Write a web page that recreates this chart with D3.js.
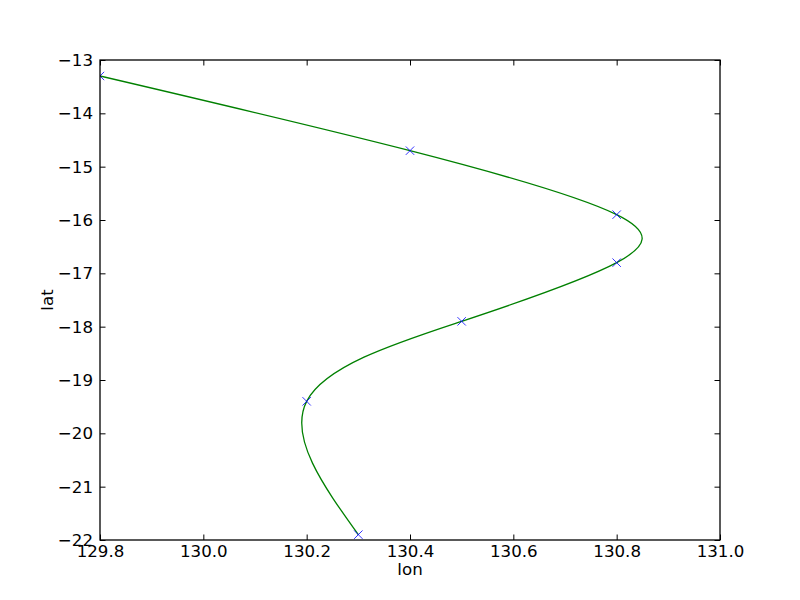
<!DOCTYPE html>
<html lang="en">
<head>
    <meta charset="UTF-8">
    <title>lon / lat track</title>
    <style>
        body { margin: 0; background: #fff; }
        svg text { font-family: 'DejaVu Sans', sans-serif; fill: #000; }
    </style>
</head>
<body>
    <svg id="chart" width="800" height="600"></svg>

    <script src="https://d3js.org/d3.v7.min.js"></script>
    <script>
        // Track points
        const lon = [129.8, 130.4, 130.8, 130.8, 130.5, 130.2, 130.3];
        const lat = [-13.3, -14.7, -15.9, -16.8, -17.9, -19.4, -21.9];
        const xTicks = [129.8, 130.0, 130.2, 130.4, 130.6, 130.8, 131.0];
        const yTicks = [-13, -14, -15, -16, -17, -18, -19, -20, -21, -22];

        const svg = d3.select('#chart');
        const mL = 100, mR = 720, mT = 60, mB = 540;
        const fontSize = '16.67px';

        const x = d3.scaleLinear().domain([129.8, 131.0]).range([mL, mR]);
        const y = d3.scaleLinear().domain([-22, -13]).range([mB, mT]);

        const pts = lon.map((d, i) => [d, lat[i]]);

        // clip to the axes box
        svg.append('clipPath').attr('id', 'clip')
            .append('rect')
            .attr('x', mL).attr('y', mT)
            .attr('width', mR - mL).attr('height', mB - mT);

        const plot = svg.append('g').attr('clip-path', 'url(#clip)');

        // smooth spline through the points
        const line = d3.line()
            .x(d => x(d[0]))
            .y(d => y(d[1]))
            .curve(d3.curveNatural);

        plot.append('path')
            .datum(pts)
            .attr('d', line)
            .attr('fill', 'none')
            .attr('stroke', '#008000')
            .attr('stroke-width', 1.3);

        // x markers
        const m = 4.2;
        plot.selectAll('.mark')
            .data(pts)
            .enter()
            .append('path')
            .attr('class', 'mark')
            .attr('d', d => {
                const cx = x(d[0]), cy = y(d[1]);
                return `M${cx - m},${cy - m}L${cx + m},${cy + m}M${cx - m},${cy + m}L${cx + m},${cy - m}`;
            })
            .attr('stroke', '#0000ff')
            .attr('stroke-width', 0.8)
            .attr('fill', 'none');

        // axes, ticks pointing inward on all four sides
        const tickLen = 5.5;
        const fmtX = d3.format('.1f');
        const fmtY = d => d3.format('d')(d).replace('-', '\u2212');

        svg.append('g')
            .attr('transform', `translate(0,${mB})`)
            .call(d3.axisBottom(x).tickValues(xTicks).tickSize(-tickLen).tickPadding(5.5).tickFormat(fmtX))
            .call(g => g.select('.domain').remove());
        svg.append('g')
            .attr('transform', `translate(0,${mT})`)
            .call(d3.axisTop(x).tickValues(xTicks).tickSize(-tickLen).tickFormat(''))
            .call(g => g.select('.domain').remove());
        svg.append('g')
            .attr('transform', `translate(${mL},0)`)
            .call(d3.axisLeft(y).tickValues(yTicks).tickSize(-tickLen).tickPadding(7).tickFormat(fmtY))
            .call(g => g.select('.domain').remove());
        svg.append('g')
            .attr('transform', `translate(${mR},0)`)
            .call(d3.axisRight(y).tickValues(yTicks).tickSize(-tickLen).tickFormat(''))
            .call(g => g.select('.domain').remove());

        svg.selectAll('.tick text')
            .style('font-size', fontSize)
            .style('font-family', "'DejaVu Sans', sans-serif");
        svg.selectAll('.tick line').attr('stroke', '#000').attr('stroke-width', 1);

        svg.append('rect')
            .attr('x', mL).attr('y', mT)
            .attr('width', mR - mL).attr('height', mB - mT)
            .attr('fill', 'none')
            .attr('stroke', '#000')
            .attr('stroke-width', 1.3);

        // axis labels
        svg.append('text')
            .attr('x', (mL + mR) / 2)
            .attr('y', 575)
            .attr('text-anchor', 'middle')
            .style('font-size', fontSize)
            .text('lon');

        svg.append('text')
            .attr('transform', `translate(53,${(mT + mB) / 2}) rotate(-90)`)
            .attr('text-anchor', 'middle')
            .style('font-size', fontSize)
            .text('lat');
    </script>
</body>
</html>
